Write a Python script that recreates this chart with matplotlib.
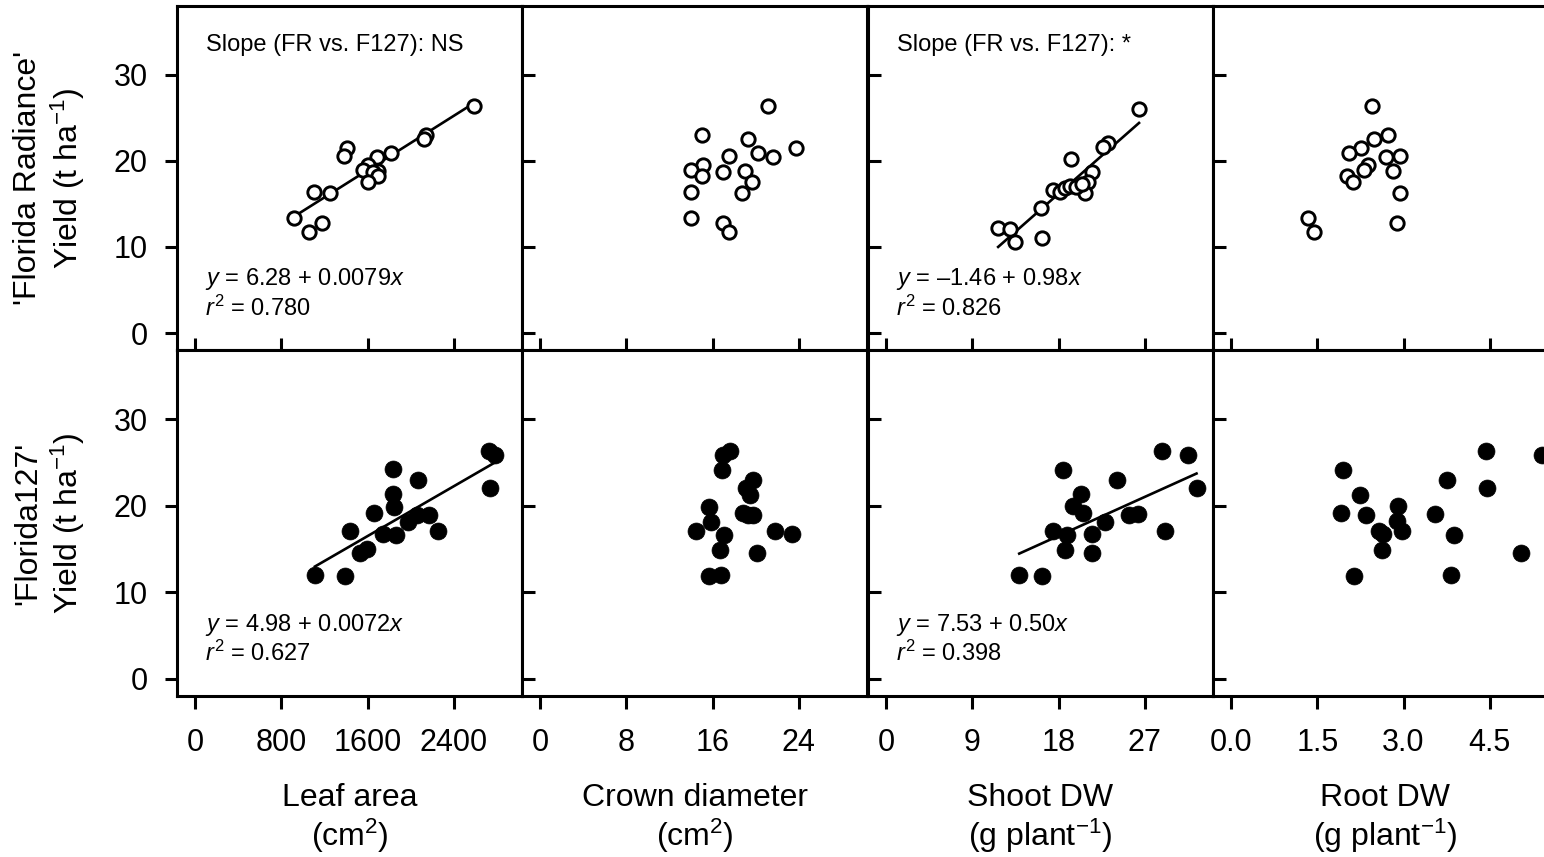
import matplotlib
matplotlib.use("Agg")
import matplotlib.pyplot as plt
import numpy as np

plt.rcParams['font.family'] = ['Liberation Sans', 'DejaVu Sans']
plt.rcParams['mathtext.fontset'] = 'custom'
plt.rcParams['mathtext.rm'] = 'Liberation Sans'
plt.rcParams['mathtext.it'] = 'Liberation Sans:italic'
plt.rcParams['mathtext.bf'] = 'Liberation Sans:bold'

# ---------------- data ----------------
# 'Florida Radiance' (top row)
leaf_FR_x = [2586, 2138, 2123, 1412, 1814, 1384, 1690, 1600, 1554, 1699, 1650, 1699, 1600, 1103, 1252, 918, 1180, 1060]
leaf_FR_y = [26.4, 23.0, 22.6, 21.5, 20.9, 20.6, 20.5, 19.5, 18.9, 18.8, 18.7, 18.2, 17.5, 16.4, 16.3, 13.4, 12.8, 11.7]

crown_FR_x = [21.1, 15.0, 19.3, 23.7, 20.2, 17.5, 21.6, 15.1, 14.0, 19.0, 17.0, 15.0, 19.7, 14.0, 18.7, 14.0, 17.0, 17.5]
crown_FR_y = [26.4, 23.0, 22.6, 21.5, 20.9, 20.6, 20.5, 19.5, 18.9, 18.8, 18.7, 18.2, 17.5, 16.4, 16.3, 13.4, 12.8, 11.7]

shoot_FR_x = [26.4, 23.2, 22.6, 19.3, 21.5, 21.1, 20.8, 17.4, 18.2, 18.7, 19.2, 16.2, 11.7, 12.9, 13.5, 16.3, 19.8, 20.4]
shoot_FR_y = [26.0, 22.1, 21.6, 20.2, 18.7, 17.5, 16.3, 16.6, 16.4, 16.9, 17.1, 14.5, 12.2, 12.1, 10.6, 11.0, 17.0, 17.3]

root_FR_x = [2.46, 2.73, 2.49, 2.26, 2.05, 2.69, 2.94, 2.39, 2.31, 2.81, 2.01, 2.12, 2.94, 1.33, 1.45, 2.88]
root_FR_y = [26.4, 23.0, 22.6, 21.5, 20.9, 20.5, 20.6, 19.5, 18.9, 18.8, 18.2, 17.5, 16.3, 13.4, 11.7, 12.8]

# 'Florida127' (bottom row)
leaf_F127_x = [2725, 2781, 2735, 1832, 2070, 1832, 1845, 1662, 1437, 1746, 1860, 1977, 2061, 2172, 2255, 1530, 1597, 1112, 1390]
leaf_F127_y = [26.3, 25.9, 22.1, 24.2, 23.0, 21.4, 19.9, 19.2, 17.1, 16.8, 16.6, 18.1, 18.9, 18.9, 17.1, 14.6, 15.0, 12.0, 11.9]

crown_F127_x = [17.6, 17.0, 16.9, 19.8, 19.1, 19.5, 15.7, 18.8, 19.8, 19.3, 15.9, 14.5, 21.8, 23.4, 17.1, 16.7, 20.1, 15.7, 16.8]
crown_F127_y = [26.3, 25.9, 24.1, 23.0, 22.1, 21.3, 19.9, 19.2, 18.9, 18.9, 18.1, 17.1, 17.1, 16.8, 16.6, 14.9, 14.6, 11.9, 12.0]

shoot_F127_x = [28.8, 31.5, 18.5, 24.1, 32.4, 20.3, 19.5, 20.6, 25.4, 26.3, 22.9, 17.4, 29.1, 21.5, 18.9, 18.7, 21.5, 13.9, 16.3]
shoot_F127_y = [26.3, 25.9, 24.1, 23.0, 22.1, 21.4, 20.0, 19.2, 18.9, 19.0, 18.1, 17.1, 17.1, 16.8, 16.6, 14.9, 14.6, 12.0, 11.9]

root_F127_x = [4.44, 5.40, 1.95, 3.75, 4.46, 2.25, 2.91, 1.92, 2.35, 3.55, 2.89, 2.58, 2.97, 2.65, 3.88, 2.62, 5.05, 2.14, 3.82]
root_F127_y = [26.3, 25.9, 24.1, 23.0, 22.1, 21.3, 20.0, 19.2, 18.9, 19.0, 18.2, 17.1, 17.1, 16.8, 16.6, 14.9, 14.6, 11.9, 12.0]

# regression coefficients (intercept, slope) ; None = no line
fit_FR = [(6.28, 0.0079), None, (-1.46, 0.98), None]
fit_F127 = [(4.98, 0.0072), None, (7.53, 0.50), None]

eq_FR = [("$\\mathit{y}$ = 6.28 + 0.0079$\\mathit{x}$", "$\\mathit{r}^{2}$ = 0.780"), None,
         ("$\\mathit{y}$ = \u20131.46 + 0.98$\\mathit{x}$", "$\\mathit{r}^{2}$ = 0.826"), None]
eq_F127 = [("$\\mathit{y}$ = 4.98 + 0.0072$\\mathit{x}$", "$\\mathit{r}^{2}$ = 0.627"), None,
           ("$\\mathit{y}$ = 7.53 + 0.50$\\mathit{x}$", "$\\mathit{r}^{2}$ = 0.398"), None]
slope_notes = ["Slope (FR vs. F127): NS", None, "Slope (FR vs. F127): *", None]

x_names = ["Leaf area", "Crown diameter", "Shoot DW", "Root DW"]
x_units = ["(cm$^{2}$)", "(cm$^{2}$)", "(g plant$^{\u2212\\mathregular{1}}$)", "(g plant$^{\u2212\\mathregular{1}}$)"]
x_steps = [800, 8, 9, 1.5]
x_ticklabels = [["0", "800", "1600", "2400"], ["0", "8", "16", "24"],
                ["0", "9", "18", "27"], ["0.0", "1.5", "3.0", "4.5"]]
y_ticks = [0, 10, 20, 30]
row_labels = ["'Florida Radiance'\nYield (t ha$^{-1}$)", "'Florida127'\nYield (t ha$^{-1}$)"]

top_data = [(leaf_FR_x, leaf_FR_y), (crown_FR_x, crown_FR_y), (shoot_FR_x, shoot_FR_y), (root_FR_x, root_FR_y)]
bot_data = [(leaf_F127_x, leaf_F127_y), (crown_F127_x, crown_F127_y), (shoot_F127_x, shoot_F127_y), (root_F127_x, root_F127_y)]

# ---------------- figure ----------------
W, H = 1544, 857
fig = plt.figure(figsize=(W / 100, H / 100), dpi=100)

col_left = [177, 522, 868, 1213]
ax_w = 345
rows = [(6, 350), (350, 696)]

LW = 2.2
TICK_LEN = 9.0
FS_TICK = 22
FS_TITLE = 23
FS_ANN = 17

for r, (ytop, ybot) in enumerate(rows):
    data = top_data if r == 0 else bot_data
    fits = fit_FR if r == 0 else fit_F127
    eqs = eq_FR if r == 0 else eq_F127
    for c in range(4):
        ax = fig.add_axes([col_left[c] / W, 1 - ybot / H, ax_w / W, (ybot - ytop) / H])
        step = x_steps[c]
        ax.set_xlim(-0.209 * step, 3.791 * step)
        ax.set_ylim(-1.97, 38.0)
        for sp in ax.spines.values():
            sp.set_linewidth(LW)
        xs, ys = data[c]
        if r == 0:
            ax.plot(xs, ys, linestyle='none', marker='o', ms=9.6, mfc='white',
                    mec='black', mew=2.1, zorder=3)
        else:
            ax.plot(xs, ys, linestyle='none', marker='o', ms=12.2, mfc='black',
                    mec='black', mew=0.5, zorder=3)
        if fits[c] is not None:
            b0, b1 = fits[c]
            xl = np.array([min(xs), max(xs)])
            ax.plot(xl, b0 + b1 * xl, color='black', lw=1.9, zorder=2)
        if eqs[c] is not None:
            ax.text(0.082, 0.205, eqs[c][0], transform=ax.transAxes, fontsize=FS_ANN,
                    ha='left', va='center')
            ax.text(0.082, 0.122, eqs[c][1], transform=ax.transAxes, fontsize=FS_ANN,
                    ha='left', va='center')
        if r == 0 and slope_notes[c] is not None:
            ax.text(0.085, 0.887, slope_notes[c], transform=ax.transAxes, fontsize=FS_ANN,
                    ha='left', va='center')

        ax.set_xticks([k * step for k in range(4)])
        ax.set_yticks(y_ticks)
        if r == 0:
            ax.tick_params(axis='x', direction='in', length=TICK_LEN, width=LW,
                           labelbottom=False)
        else:
            ax.set_xticklabels(x_ticklabels[c])
            ax.tick_params(axis='x', direction='out', length=TICK_LEN, width=LW,
                           labelsize=FS_TICK, pad=14)
        if c == 0:
            ax.tick_params(axis='y', direction='out', length=TICK_LEN, width=LW,
                           labelsize=FS_TICK, pad=12)
        else:
            ax.tick_params(axis='y', direction='in', length=TICK_LEN, width=LW,
                           labelleft=False)

    # row label
    yc = 1 - (ytop + ybot) / 2 / H
    fig.text(50 / W, yc, row_labels[r], rotation=90, ha='center', va='center',
             fontsize=FS_TITLE, multialignment='center', linespacing=1.2)

# x axis titles
for c in range(4):
    xc = (col_left[c] + ax_w / 2) / W
    fig.text(xc, 1 - 798 / H, x_names[c], ha='center', va='center', fontsize=FS_TITLE)
    fig.text(xc, 1 - 836 / H, x_units[c], ha='center', va='center', fontsize=FS_TITLE)

fig.savefig("out.png", dpi=100)
